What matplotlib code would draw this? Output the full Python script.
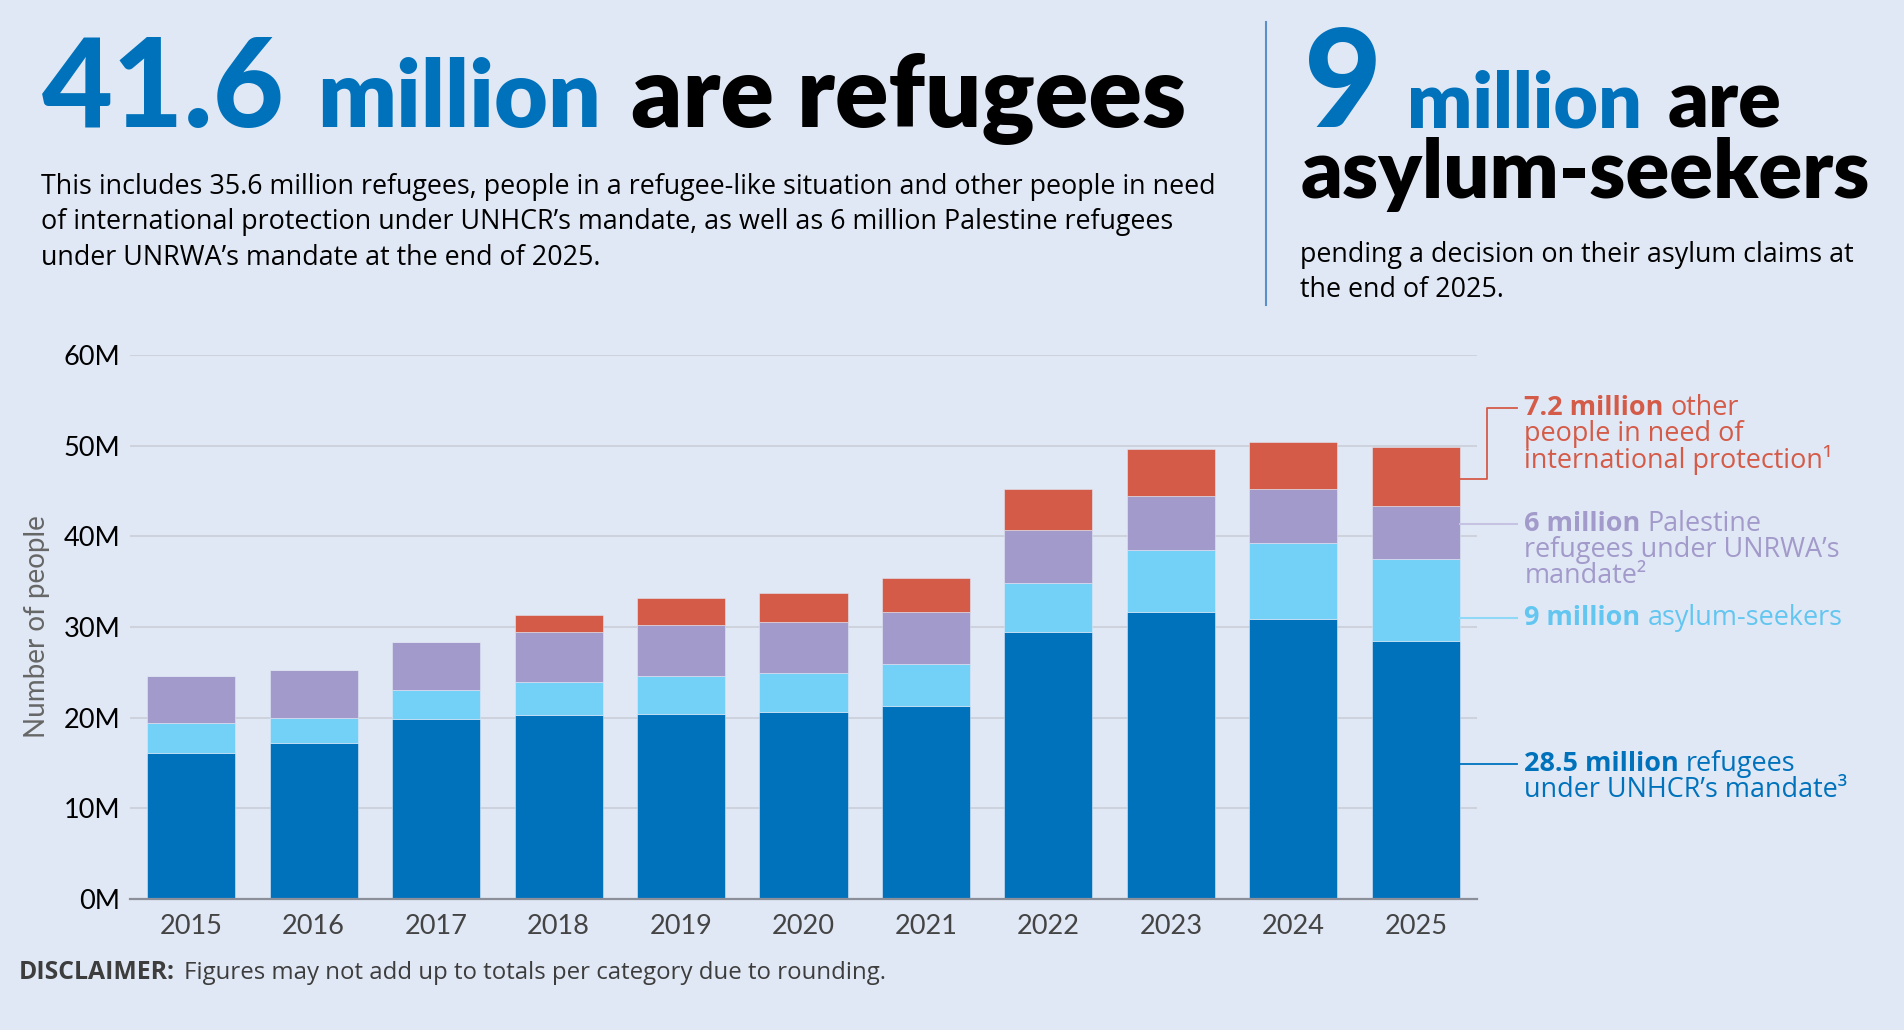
import matplotlib
matplotlib.use("Agg")
import matplotlib.pyplot as plt
from matplotlib.transforms import IdentityTransform

# ---------------- DATA (millions) ----------------
years = ["2015", "2016", "2017", "2018", "2019", "2020",
         "2021", "2022", "2023", "2024", "2025"]
refugees_unhcr = [16.1, 17.2, 19.9, 20.3, 20.4, 20.6, 21.3, 29.4, 31.6, 30.9, 28.5]
asylum_seekers = [3.3, 2.8, 3.1, 3.6, 4.2, 4.3, 4.6, 5.4, 6.9, 8.4, 9.0]
palestine_unrwa = [5.2, 5.3, 5.4, 5.5, 5.6, 5.6, 5.8, 5.9, 6.0, 5.9, 5.9]
other_protection = [0, 0, 0, 1.9, 3.0, 3.2, 3.7, 4.5, 5.1, 5.2, 6.5]
y_ticks = [0, 10, 20, 30, 40, 50, 60]

# ---------------- STYLE ----------------
BG = "#E1E8F5"
BLUE = "#0072BC"
LBLUE = "#73D0F7"
PURPLE = "#A29ACA"
RED = "#D45B48"
HEAD = ["Lato", "DejaVu Sans"]
BODY = ["Open Sans", "DejaVu Sans"]
plt.rcParams["font.family"] = HEAD

W, H = 1904, 1030
fig = plt.figure(figsize=(W / 100, H / 100), dpi=100, facecolor=BG)
r = fig.canvas.get_renderer()


def put(x, y, s, **kw):
    # x, y in image pixels, y measured from the top
    return fig.text(x, H - y, s, transform=IdentityTransform(), **kw)


def fit(x, y, s, width, **kw):
    # draw text and scale its size so that it spans the given width
    t = put(x, y, s, **kw)
    w = t.get_window_extent(r).width
    t.set_fontsize(t.get_fontsize() * width / w)
    return t


def fit_size(s, width, **kw):
    t = fig.text(0, 0, s, **kw)
    w = t.get_window_extent(r).width
    fs = t.get_fontsize() * width / w
    t.remove()
    return fs


# ---------------- HEADER ----------------
big = dict(fontsize=98, fontweight="black", color=BLUE)
mid_blue = dict(fontsize=72, fontweight="heavy", color=BLUE)
mid_black = dict(fontsize=72, fontweight="heavy", color="black")
fit(42, 127, "41.6", 243, **big)
fit(317, 127, "million", 284, **mid_blue)
fit(631, 127, "are refugees", 555, **mid_black)

para = ["This includes 35.6 million refugees, people in a refugee-like situation and other people in need",
        "of international protection under UNHCR\u2019s mandate, as well as 6 million Palestine refugees",
        "under UNRWA\u2019s mandate at the end of 2025."]
body_fs = fit_size(para[0], 1178, fontsize=17, family=BODY)
for i, line in enumerate(para):
    put(41, 194 + i * 35.5, line, fontsize=body_fs, family=BODY, color="black")

fig.add_artist(plt.Line2D([1266, 1266], [H - 22, H - 305], transform=IdentityTransform(),
                          color="#5B8FC9", lw=1.5))
fit(1304, 127, "9", 78, **big)
fit(1407, 127, "million", 235, **mid_blue)
fit(1668, 127, "are", 114, **mid_black)
fit(1301, 198, "asylum-seekers", 570, **mid_black)
put(1300, 262, "pending a decision on their asylum claims at", fontsize=body_fs, family=BODY, color="black")
put(1300, 297, "the end of 2025.", fontsize=body_fs, family=BODY, color="black")

# ---------------- CHART ----------------
ax = fig.add_axes([130 / W, 1 - 899 / H, (1477 - 130) / W, (899 - 355) / H])
ax.set_facecolor(BG)
x = list(range(len(years)))
bw = 0.72
bottom = [0] * len(years)
for vals, col in [(refugees_unhcr, BLUE), (asylum_seekers, LBLUE),
                  (palestine_unrwa, PURPLE), (other_protection, RED)]:
    ax.bar(x, vals, bw, bottom=bottom, color=col, edgecolor=BG, linewidth=0.4, zorder=3)
    bottom = [b + v for b, v in zip(bottom, vals)]

ax.set_xlim(-0.5, len(years) - 0.5)
ax.set_ylim(0, 60)
ax.set_yticks(y_ticks)
ax.set_yticklabels([f"{t}M" for t in y_ticks], fontsize=19.5, color="black")
ax.set_xticks(x)
ax.set_xticklabels(years, fontsize=19.5, color="#444444")
ax.tick_params(axis="both", length=0)
ax.tick_params(axis="y", pad=7)
ax.tick_params(axis="x", pad=11)
ax.grid(axis="y", color="#C9CED8", lw=1.2, zorder=0)
for s in ["top", "right", "left"]:
    ax.spines[s].set_visible(False)
ax.spines["bottom"].set_color("#8A8F99")
ax.spines["bottom"].set_linewidth(1.6)
ax.spines["bottom"].set_zorder(4)
ax.set_ylabel("Number of people", fontsize=20, color="#666666", labelpad=10)

# ---------------- SIDE LABELS ----------------
last = len(years) - 1
x_bar = last + bw / 2
x_txt = last + 0.886
lab_fs = fit_size("refugees under UNRWA\u2019s", 316, fontsize=16, family=BODY)
lab = dict(fontsize=lab_fs, family=BODY, va="center", clip_on=False, zorder=5)


def label(lines, y0, col):
    # first line: bold number then regular words
    t = ax.text(x_txt, y0, lines[0][0], color=col, fontweight="bold", **lab)
    ext = t.get_window_extent(r)
    xd = ax.transData.inverted().transform((ext.x1 + 7, 0))[0]
    ax.text(xd, y0, lines[0][1], color=col, **lab)
    for i, s in enumerate(lines[1:], 1):
        ax.text(x_txt, y0 - i * 26 / 9.06, s, color=col, **lab)


ax.plot([x_bar, last + 0.584, last + 0.584, last + 0.83], [46.3, 46.3, 54.2, 54.2],
        color=RED, lw=1.3, clip_on=False, zorder=5)
label([("7.2 million", "other"), "people in need of", "international protection\u00b9"], 54.2, RED)

ax.plot([x_bar, last + 0.83], [41.4, 41.4], color="#C6C2E3", lw=1.5, clip_on=False, zorder=5)
label([("6 million", "Palestine"), "refugees under UNRWA\u2019s", "mandate\u00b2"], 41.4, PURPLE)

ax.plot([x_bar, last + 0.83], [31.0, 31.0], color="#8FD9F7", lw=1.5, clip_on=False, zorder=5)
label([("9 million", "asylum-seekers")], 31.0, "#62C6F0")

ax.plot([x_bar, last + 0.83], [14.9, 14.9], color=BLUE, lw=1.3, clip_on=False, zorder=5)
label([("28.5 million", "refugees"), "under UNHCR\u2019s mandate\u00b3"], 14.9, BLUE)

# ---------------- FOOTER ----------------
fit(19, 979, "DISCLAIMER:", 156, fontsize=15, fontweight="bold", family=BODY, color="#3D3D3D")
fit(184, 979, "Figures may not add up to totals per category due to rounding.", 702,
    fontsize=15, family=BODY, color="#3D3D3D")

fig.savefig("out.png", dpi=100, facecolor=BG)
